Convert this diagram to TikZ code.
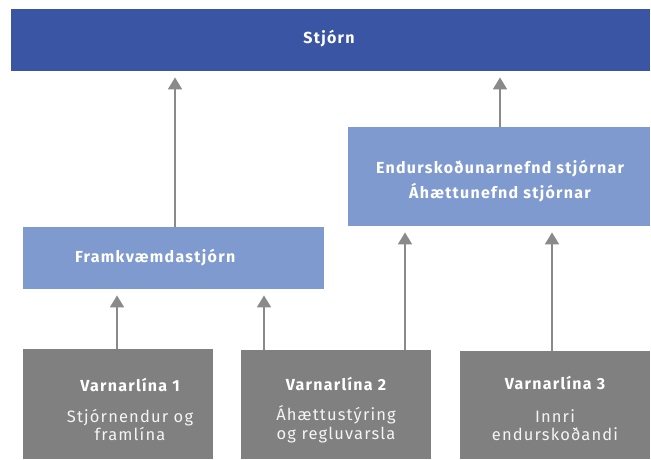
\documentclass[tikz,border=0pt]{standalone}
\usepackage{fontspec}
\setmainfont{Fira Sans}
\newfontfamily\headfont[LetterSpace=8]{Fira Sans}
\newfontfamily\plainfont[LetterSpace=7]{Fira Sans}
\usetikzlibrary{arrows.meta}
\definecolor{darkblue}{HTML}{3A55A4}
\definecolor{lightblue}{HTML}{7F9ACF}
\definecolor{boxgray}{HTML}{808080}
\definecolor{arrowgray}{HTML}{8A8A8A}
\definecolor{textwhite}{HTML}{F4F4F4}
\tikzset{
  topbox/.style={fill=darkblue, draw=none, inner sep=0pt, anchor=north west},
  midbox/.style={fill=lightblue, draw=none, inner sep=0pt, anchor=north west},
  graybox/.style={fill=boxgray, draw=none, inner sep=0pt, anchor=north west},
  headtext/.style={text=white, font=\headfont\bfseries\fontsize{16}{24.5}\selectfont, inner sep=0pt, align=center},
  bodytext/.style={text=textwhite, font=\plainfont\fontsize{16.5}{18.5}\selectfont, inner sep=0pt, align=center},
  arr/.style={draw=arrowgray, line width=1.6pt, -{Triangle[length=12pt,width=14pt]}, shorten >=6pt}
}
\begin{document}
\begin{tikzpicture}[x=1pt,y=-1pt]
\useasboundingbox[fill=white] (0,0) rectangle (651,459);
% boxes
\node[topbox, minimum width=639pt, minimum height=62pt] (stjorn) at (11,9) {};
\node[headtext, anchor=base] (stjornt) at (329,43.5) {Stjórn};
\node[midbox, minimum width=301pt, minimum height=62pt] (fram) at (23,227) {};
\node[headtext, anchor=base west] (framt) at (75,262.7) {Framkvæmdastjórn};
\node[midbox, minimum width=302pt, minimum height=99pt] (endur) at (348,127) {};
\node[headtext] (endurt) at (500,181) {Endurskoðunarnefnd stjórnar\\Áhættunefnd stjórnar};
\node[graybox, minimum width=190pt, minimum height=110pt] (v1) at (23,349) {};
\node[graybox, minimum width=190pt, minimum height=109pt] (v2) at (241,350) {};
\node[graybox, minimum width=190pt, minimum height=108pt] (v3) at (460,351) {};
\node[headtext, anchor=base] (v1h) at (130,391) {Varnarlína 1};
\node[bodytext] (v1t) at (130,425) {Stjórnendur og\\framlína};
\node[headtext, anchor=base] (v2h) at (336,390) {Varnarlína 2};
\node[bodytext] (v2t) at (336,424) {Áhættustýring\\og regluvarsla};
\node[headtext, anchor=base] (v3h) at (555,389) {Varnarlína 3};
\node[bodytext] (v3t) at (555,425) {Innri\\endurskoðandi};
% arrows
\draw[arr] (175,0 |- fram.north) -- (175,0 |- stjorn.south);
\draw[arr] (500,0 |- endur.north) -- (500,0 |- stjorn.south);
\draw[arr] (117,0 |- v1.north) -- (117,0 |- fram.south);
\draw[arr] (264,0 |- v2.north) -- (264,0 |- fram.south);
\draw[arr] (405,0 |- v2.north) -- (405,0 |- endur.south);
\draw[arr] (552,0 |- v3.north) -- (552,0 |- endur.south);
\end{tikzpicture}
\end{document}
